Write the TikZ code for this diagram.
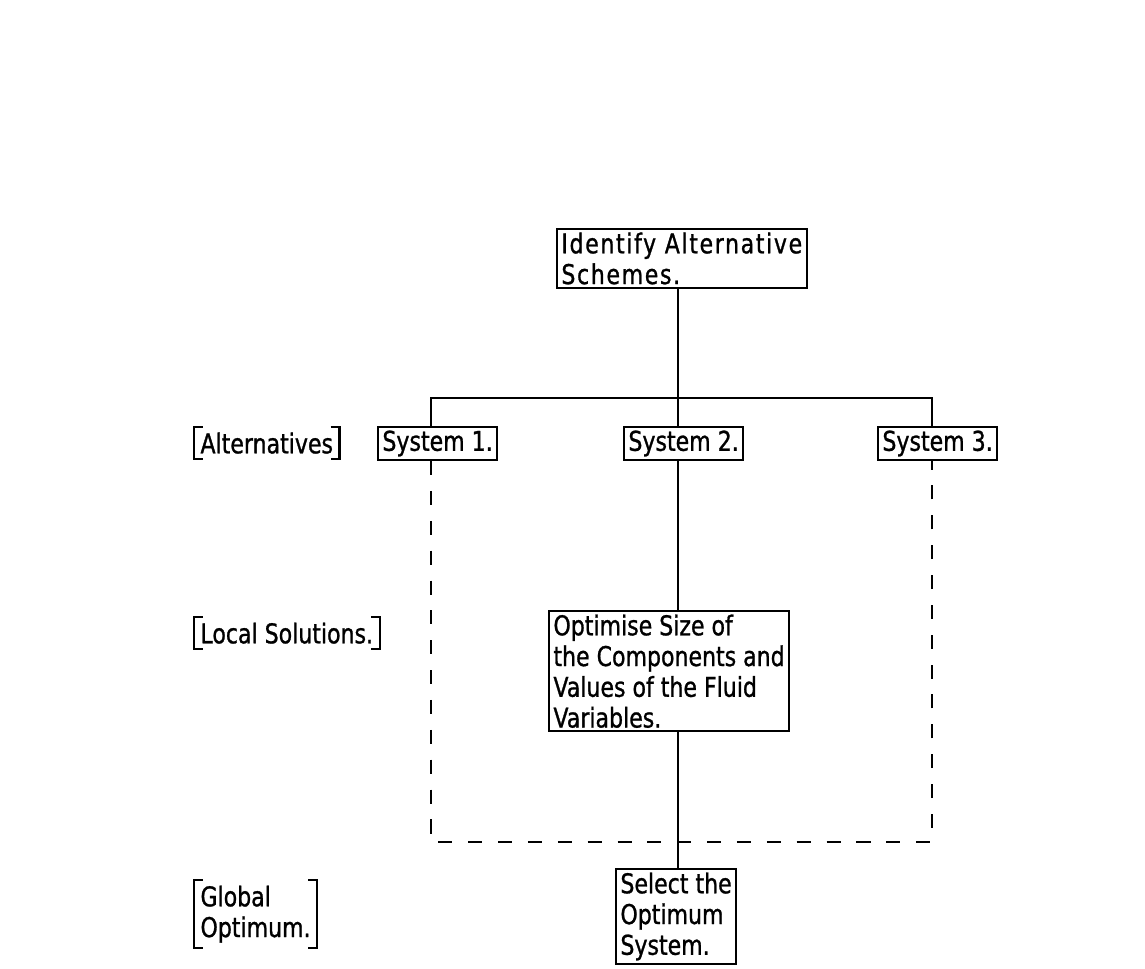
\documentclass[tikz,border=0pt]{standalone}
\usepackage{fontspec}
\setmainfont{DejaVu Sans}[FakeStretch=0.81, FakeBold=1]
\usetikzlibrary{positioning}

\tikzset{
    stage/.style={draw, line width=1.2pt, align=left, anchor=north west,
        inner xsep=2.5pt, inner ysep=2pt, font=\fontsize{15.5}{17.5}\selectfont},
    tierLabel/.style={align=left, anchor=north west,
        inner xsep=3.5pt, inner ysep=3pt, font=\fontsize{15.5}{17.5}\selectfont},
    flowLine/.style={line width=1.4pt},
    searchLine/.style={line width=1.4pt, dash pattern=on 8pt off 9pt}
}

\newcommand{\tierBrackets}[1]{%
    \draw[line width=1.2pt] ([xshift=5pt]#1.north west) -| (#1.south west) -- ++(5pt,0);
    \draw[line width=1.2pt] ([xshift=-5pt]#1.north east) -| (#1.south east) -- ++(-5pt,0);
}

\begin{document}
\begin{tikzpicture}[x=0.02cm, y=-0.02cm]%[show background grid]
    \useasboundingbox (0,0) rectangle (1145,968);

    \node[stage, anchor=south west, font=\fontsize{15.5}{17.5}\selectfont\addfontfeature{LetterSpace=6}]
        (identifySchemes) at (556,289) {Identify Alternative\\Schemes.};

    \node[stage] (systemOne) at (377,426) {System 1.};
    \node[stage] (systemTwo) at (623,426) {System 2.};
    \node[stage] (systemThree) at (877,426) {System 3.};

    \node[stage] (optimiseSize) at (548,610) {Optimise Size of\\the Components and\\Values of the Fluid\\Variables.};

    \node[stage] (selectOptimum) at (615,868) {Select the\\Optimum\\System.};

    \node[tierLabel] (alternatives) at (194,427) {Alternatives};
    \node[tierLabel] (localSolutions) at (194,617) {Local Solutions.};
    \node[tierLabel] (globalOptimum) at (194,880) {Global\\Optimum.};

    \tierBrackets{alternatives}
    \tierBrackets{localSolutions}
    \tierBrackets{globalOptimum}

    \coordinate (spine) at (678,398);
    \coordinate (branchLeft) at (431,398);
    \coordinate (branchRight) at (932,398);
    \coordinate (searchLeft) at (431,842);
    \coordinate (searchRight) at (932,842);

    \draw[flowLine] (spine |- identifySchemes.south) -- (spine |- systemTwo.north);
    \draw[flowLine] (branchLeft |- systemOne.north) -- (branchLeft) -- (branchRight) -- (branchRight |- systemThree.north);
    \draw[flowLine] (spine |- systemTwo.south) -- (spine |- optimiseSize.north);
    \draw[flowLine] (spine |- optimiseSize.south) -- (spine |- selectOptimum.north);

    \draw[searchLine] (branchLeft |- systemOne.south) -- (searchLeft) -- (searchRight) -- (branchRight |- systemThree.south);

\end{tikzpicture}
\end{document}
